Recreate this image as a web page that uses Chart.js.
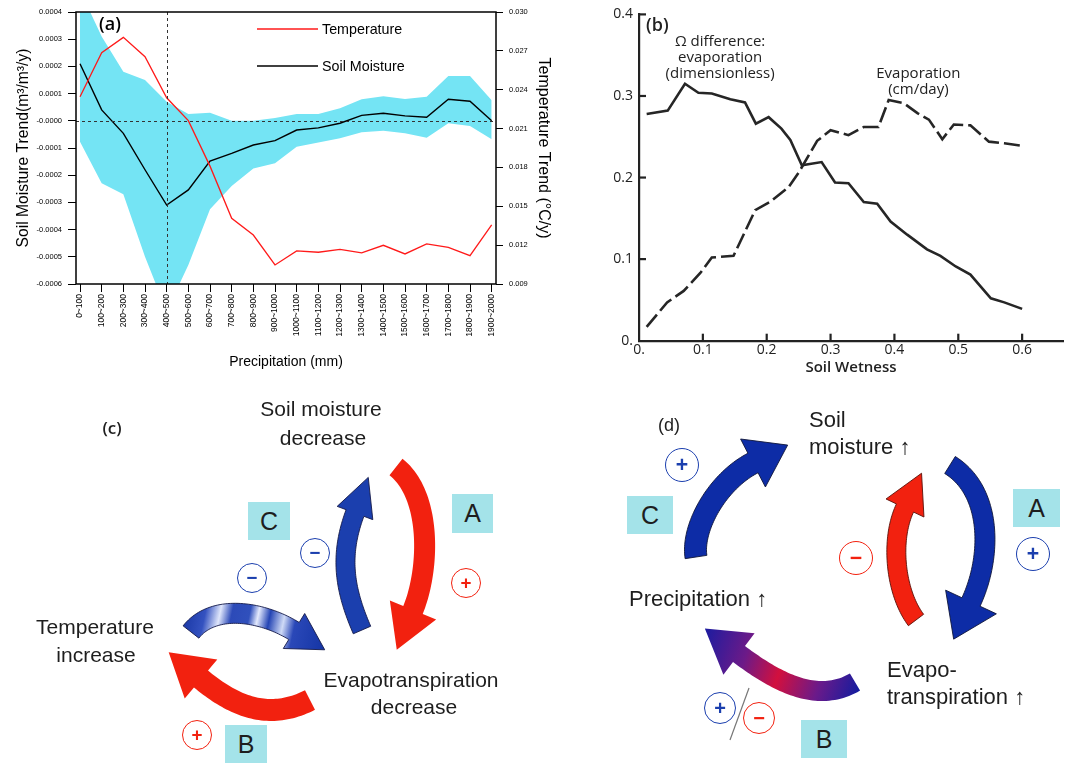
<!DOCTYPE html>
<html>
<head>
<meta charset="utf-8">
<script src="https://cdn.jsdelivr.net/npm/chart.js@4.4.0/dist/chart.umd.min.js"></script>
<style>
  body { margin: 0; background: #fff; }
  #page { position: relative; width: 1070px; height: 763px; overflow: hidden; background: #fff; }
  canvas { position: absolute; }
  .t { position: absolute; white-space: nowrap; font-family: 'Liberation Sans', Arial, sans-serif; color: #1e1e1e; }
  .c { transform: translate(-50%, -50%); text-align: center; }
  .l { transform: translateY(-50%); }
  .box { position: absolute; background: #a4e3e9; display: flex; align-items: center; justify-content: center;
         font-family: 'Liberation Sans', Arial, sans-serif; font-size: 25px; color: #1e1e1e; }
  .circ { position: absolute; border-radius: 50%; box-sizing: border-box; display: flex; align-items: center;
          justify-content: center; font-family: 'Liberation Sans', Arial, sans-serif; font-weight: bold; background: #fff; }
</style>
</head>
<body>
<div id="page">
  <canvas id="diag" width="1070" height="763" style="left:0;top:0"></canvas>
  <canvas id="chartA" width="560" height="380" style="left:0;top:0"></canvas>
  <canvas id="chartB" width="480" height="390" style="left:590px;top:0"></canvas>
</div>
<script>
// ---------------- DATA (a) ----------------
const precipBins = ['0~100','100~200','200~300','300~400','400~500','500~600','600~700','700~800','800~900','900~1000',
  '1000~1100','1100~1200','1200~1300','1300~1400','1400~1500','1500~1600','1600~1700','1700~1800','1800~1900','1900~2000'];
const soilMoisture = [0.00021, 0.00004, -0.000046, -0.00018, -0.00031, -0.000254, -0.000148, -0.00012, -0.000089, -0.000073,
  -0.000034, -0.000026, -0.000009, 0.00002, 0.000028, 0.000018, 0.000013, 0.000079, 0.000072, 0.0];
const smUpper = [0.00048, 0.00031, 0.00018, 0.00015, 0.00007, 0.000025, 0.00003, 0.0, 0.0, 0.00001,
  0.000025, 0.000025, 0.000046, 0.000079, 0.00009, 0.00008, 0.000088, 0.000165, 0.000165, 0.000076];
const smLower = [-0.000077, -0.00023, -0.00027, -0.0005, -0.0007, -0.00053, -0.000325, -0.00024, -0.000175, -0.000156,
  -0.000095, -0.00008, -0.000064, -0.000042, -0.000037, -0.000046, -0.000062, -0.000009, -0.000019, -0.000068];
const tempTrend = [0.02346, 0.02686, 0.02804, 0.02655, 0.02338, 0.02161, 0.0181, 0.01407, 0.01278, 0.01047,
  0.01155, 0.01145, 0.01168, 0.0114, 0.01199, 0.01132, 0.01209, 0.01183, 0.01119, 0.01356];
const smTicks = [-0.0006, -0.0005, -0.0004, -0.0003, -0.0002, -0.0001, 0, 0.0001, 0.0002, 0.0003, 0.0004];
const smTickLabels = ['-0.0006','-0.0005','-0.0004','-0.0003','-0.0002','-0.0001','-0.0000','0.0001','0.0002','0.0003','0.0004'];
const tTicks = [0.009, 0.012, 0.015, 0.018, 0.021, 0.024, 0.027, 0.030];
const tTickLabels = ['0.009','0.012','0.015','0.018','0.021','0.024','0.027','0.030'];
const refBin = 4; // 400~500 dashed marker

// ---------------- DATA (b) ----------------
const omegaX = [0.012, 0.045, 0.072, 0.093, 0.114, 0.143, 0.166, 0.183, 0.203, 0.223, 0.237, 0.255, 0.286, 0.307, 0.328,
  0.352, 0.373, 0.394, 0.420, 0.451, 0.472, 0.496, 0.519, 0.551, 0.572, 0.600];
const omegaY = [0.278, 0.282, 0.315, 0.304, 0.303, 0.296, 0.292, 0.266, 0.274, 0.260, 0.246, 0.215, 0.219, 0.194, 0.193,
  0.170, 0.168, 0.146, 0.130, 0.112, 0.104, 0.091, 0.081, 0.052, 0.047, 0.039];
const evapX = [0.012, 0.044, 0.070, 0.096, 0.114, 0.148, 0.182, 0.205, 0.234, 0.250, 0.279, 0.300, 0.328, 0.352, 0.375,
  0.391, 0.415, 0.436, 0.454, 0.475, 0.493, 0.519, 0.548, 0.572, 0.600];
const evapY = [0.017, 0.047, 0.061, 0.083, 0.102, 0.104, 0.160, 0.170, 0.188, 0.206, 0.245, 0.258, 0.252, 0.262, 0.262,
  0.295, 0.291, 0.279, 0.271, 0.247, 0.265, 0.264, 0.244, 0.242, 0.239];
const wetTicks = [0, 0.1, 0.2, 0.3, 0.4, 0.5, 0.6];
const wetTickLabels = ['0.', '0.1', '0.2', '0.3', '0.4', '0.5', '0.6'];
const bTicks = [0, 0.1, 0.2, 0.3, 0.4];
const bTickLabels = ['0.', '0.1', '0.2', '0.3', '0.4'];

const fontSans = "'Liberation Sans', Arial, sans-serif";
const fontOpen = "'Open Sans', sans-serif";
const cyan = '#74e4f4';

// -------- PANEL (a) extras: frame, dashed refs, legend --------
const frameA = {
  id: 'frameA',
  afterDatasetsDraw(chart) {
    const {ctx, chartArea: a, scales} = chart;
    ctx.save();
    ctx.strokeStyle = '#333';
    ctx.lineWidth = 1;
    ctx.setLineDash([3, 3]);
    const y0 = Math.round(scales.yS.getPixelForValue(0)) + 0.5;
    ctx.beginPath(); ctx.moveTo(a.left, y0); ctx.lineTo(a.right, y0); ctx.stroke();
    const x0 = Math.round(scales.x.getPixelForValue(refBin)) + 0.5;
    ctx.beginPath(); ctx.moveTo(x0, a.top); ctx.lineTo(x0, a.bottom); ctx.stroke();
    ctx.setLineDash([]);
    ctx.strokeStyle = '#000';
    ctx.lineWidth = 1.5;
    ctx.strokeRect(a.left, a.top, a.right - a.left, a.bottom - a.top);
    // legend
    const lx = a.left + 181, items = [['Temperature', '#ff1a1a', 29], ['Soil Moisture', '#000', 66]];
    ctx.font = '14.3px ' + fontSans;
    ctx.textBaseline = 'middle';
    items.forEach(([txt, col, y]) => {
      ctx.strokeStyle = col; ctx.lineWidth = 1.4;
      ctx.beginPath(); ctx.moveTo(lx, y); ctx.lineTo(lx + 61, y); ctx.stroke();
      ctx.fillStyle = '#000';
      ctx.fillText(txt, lx + 65, y + 1);
    });
    ctx.font = '600 18px ' + fontOpen;
    ctx.fillText('(a)', 99, 25);
    ctx.restore();
  }
};

const pts = (arr) => arr.map((v, i) => ({x: i, y: v}));

new Chart(document.getElementById('chartA'), {
  type: 'line',
  data: {
    datasets: [
      {label: 'Temperature', data: pts(tempTrend), yAxisID: 'yT', borderColor: '#ff1a1a', borderWidth: 1.3,
       pointRadius: 0, tension: 0, fill: false, order: 0},
      {label: 'Soil Moisture', data: pts(soilMoisture), yAxisID: 'yS', borderColor: '#000', borderWidth: 1.4,
       pointRadius: 0, tension: 0, fill: false, order: 1},
      {label: 'upper', data: pts(smUpper), yAxisID: 'yS', borderWidth: 0, borderColor: 'rgba(0,0,0,0)',
       backgroundColor: cyan, pointRadius: 0, fill: '+1', order: 5},
      {label: 'lower', data: pts(smLower), yAxisID: 'yS', borderWidth: 0, borderColor: 'rgba(0,0,0,0)',
       pointRadius: 0, fill: false, order: 6}
    ]
  },
  options: {
    responsive: false,
    animation: false,
    layout: {padding: {top: 12, left: 0, right: 0, bottom: 0}},
    plugins: {legend: {display: false}, tooltip: {enabled: false}},
    scales: {
      x: {
        type: 'linear', min: -0.185, max: 19.2,
        afterBuildTicks: s => { s.ticks = precipBins.map((_, i) => ({value: i})); },
        afterFit: s => { s.height = 96; },
        ticks: {callback: v => precipBins[v], minRotation: 90, maxRotation: 90, autoSkip: false,
                font: {family: fontSans, size: 8.5}, color: '#000', padding: 2},
        grid: {drawOnChartArea: false, tickLength: 8, tickColor: '#000', tickWidth: 1},
        border: {display: false},
        title: {display: true, text: 'Precipitation (mm)', color: '#000', font: {family: fontSans, size: 14},
                padding: {top: 0, bottom: 9.6}}
      },
      yS: {
        position: 'left', min: -0.0006, max: 0.0004,
        afterBuildTicks: s => { s.ticks = smTicks.map(v => ({value: v})); },
        afterFit: s => { s.width = 76; },
        ticks: {callback: (v, i) => smTickLabels[i], font: {family: fontSans, size: 7.5}, color: '#000', padding: 6},
        grid: {drawOnChartArea: false, tickLength: 8, tickColor: '#000'},
        border: {display: false},
        title: {display: true, text: 'Soil Moisture Trend(m³/m³/y)', color: '#000',
                font: {family: fontSans, size: 15.7}, padding: {top: 14, bottom: 0}}
      },
      yT: {
        position: 'right', min: 0.009, max: 0.030,
        afterBuildTicks: s => { s.ticks = tTicks.map(v => ({value: v})); },
        afterFit: s => { s.width = 64; },
        ticks: {callback: (v, i) => tTickLabels[i], font: {family: fontSans, size: 7.5}, color: '#000', padding: 6},
        grid: {drawOnChartArea: false, tickLength: 7, tickColor: '#000'},
        border: {display: false},
        title: {display: true, text: 'Temperature Trend (°C/y)', color: '#000',
                font: {family: fontSans, size: 16}, padding: {top: 6.5, bottom: 0}}
      }
    }
  },
  plugins: [frameA]
});

// -------- PANEL (b) extras: inward ticks and annotations --------
const decoB = {
  id: 'decoB',
  afterDraw(chart) {
    const {ctx, chartArea: a, scales: {x, y}} = chart;
    ctx.save();
    ctx.strokeStyle = '#222';
    ctx.lineWidth = 2.2;
    wetTicks.slice(1).forEach(v => {
      const px = x.getPixelForValue(v);
      ctx.beginPath(); ctx.moveTo(px, a.bottom); ctx.lineTo(px, a.bottom - 7); ctx.stroke();
    });
    bTicks.slice(1).forEach(v => {
      const py = y.getPixelForValue(v);
      ctx.beginPath(); ctx.moveTo(a.left, py); ctx.lineTo(a.left + 7, py); ctx.stroke();
    });
    ctx.fillStyle = '#222';
    ctx.textAlign = 'center';
    ctx.textBaseline = 'middle';
    ctx.font = '15px ' + fontOpen;
    [['Ω difference:', 0.127, 0.366], ['evaporation', 0.127, 0.3465], ['(dimensionless)', 0.127, 0.3275],
     ['Evaporation', 0.4375, 0.3275], ['(cm/day)', 0.4375, 0.308]].forEach(([t, vx, vy]) => {
      ctx.fillText(t, x.getPixelForValue(vx), y.getPixelForValue(vy));
    });
    ctx.textAlign = 'left';
    ctx.font = '600 18px ' + fontOpen;
    ctx.fillText('(b)', 56, 26);
    ctx.restore();
  }
};

new Chart(document.getElementById('chartB'), {
  type: 'scatter',
  data: {
    datasets: [
      {label: 'Ω difference: evaporation', data: omegaX.map((v, i) => ({x: v, y: omegaY[i]})), showLine: true,
       borderColor: '#262626', borderWidth: 2.6, pointRadius: 0, tension: 0},
      {label: 'Evaporation', data: evapX.map((v, i) => ({x: v, y: evapY[i]})), showLine: true,
       borderColor: '#262626', borderWidth: 2.6, borderDash: [16, 5], pointRadius: 0, tension: 0}
    ]
  },
  options: {
    responsive: false,
    animation: false,
    layout: {padding: {top: 10, right: 7, left: 0, bottom: 0}},
    plugins: {legend: {display: false}, tooltip: {enabled: false}},
    scales: {
      x: {
        type: 'linear', min: 0, max: 0.664,
        afterBuildTicks: s => { s.ticks = wetTicks.map(v => ({value: v})); },
        afterFit: s => { s.height = 49.3; },
        ticks: {callback: (v, i) => wetTickLabels[i], font: {family: fontOpen, size: 14}, color: '#222', padding: 1},
        grid: {display: true, drawOnChartArea: false, drawTicks: false},
        border: {color: '#222', width: 2.2},
        title: {display: true, text: 'Soil Wetness', color: '#222', font: {family: fontOpen, size: 15, weight: '600'},
                padding: {top: 0, bottom: 13}}
      },
      y: {
        min: 0, max: 0.4,
        afterBuildTicks: s => { s.ticks = bTicks.map(v => ({value: v})); },
        afterFit: s => { s.width = 49; },
        ticks: {callback: (v, i) => bTickLabels[i], font: {family: fontOpen, size: 14}, color: '#222', padding: 6},
        grid: {display: true, drawOnChartArea: false, drawTicks: false},
        border: {color: '#222', width: 2.2}
      }
    }
  },
  plugins: [decoB]
});

// ---------------- PANELS (c) and (d): feedback diagrams ----------------
const red = '#f2210f', blueC = '#1b3fae', blueD = '#0d2ca6';
const dctx = document.getElementById('diag').getContext('2d');

function curvedArrow(ctx, a) {
  const [s, c1, c2, e] = [a.s, a.c1, a.c2, a.e];
  const N = 48, left = [], right = [];
  let nx = 0, ny = 0, dx = 0, dy = 0;
  for (let i = 0; i <= N; i++) {
    const t = i / N, u = 1 - t;
    const px = u*u*u*s[0] + 3*u*u*t*c1[0] + 3*u*t*t*c2[0] + t*t*t*e[0];
    const py = u*u*u*s[1] + 3*u*u*t*c1[1] + 3*u*t*t*c2[1] + t*t*t*e[1];
    dx = 3*u*u*(c1[0]-s[0]) + 6*u*t*(c2[0]-c1[0]) + 3*t*t*(e[0]-c2[0]);
    dy = 3*u*u*(c1[1]-s[1]) + 6*u*t*(c2[1]-c1[1]) + 3*t*t*(e[1]-c2[1]);
    const L = Math.hypot(dx, dy);
    dx /= L; dy /= L; nx = -dy; ny = dx;
    left.push([px + nx*a.w/2, py + ny*a.w/2]);
    right.push([px - nx*a.w/2, py - ny*a.w/2]);
  }
  const tip = [e[0] + dx*a.hl, e[1] + dy*a.hl];
  ctx.beginPath();
  left.forEach((p, i) => i ? ctx.lineTo(p[0], p[1]) : ctx.moveTo(p[0], p[1]));
  ctx.lineTo(e[0] + nx*a.hw/2, e[1] + ny*a.hw/2);
  ctx.lineTo(tip[0], tip[1]);
  ctx.lineTo(e[0] - nx*a.hw/2, e[1] - ny*a.hw/2);
  for (let i = N; i >= 0; i--) ctx.lineTo(right[i][0], right[i][1]);
  ctx.closePath();
  ctx.fillStyle = a.fill;
  ctx.fill();
  if (a.stroke) { ctx.strokeStyle = a.stroke; ctx.lineWidth = 0.9; ctx.stroke(); }
}

const stripes = dctx.createLinearGradient(183, 620, 325, 650);
[[0, '#1a38a6'], [0.14, '#3452c0'], [0.24, '#dfe6fb'], [0.32, '#2c4ab8'], [0.44, '#3050bc'], [0.5, '#e4eafd'],
 [0.58, '#2444b4'], [0.68, '#cfdaf6'], [0.76, '#2a48b8'], [1, '#1434a4']].forEach(([o, c]) => stripes.addColorStop(o, c));
const purple = dctx.createLinearGradient(705, 628, 865, 682);
[[0, '#1c1ca0'], [0.28, '#6c1a88'], [0.5, '#d2103e'], [0.75, '#6a1a8a'], [1, '#0e1ca0']].forEach(([o, c]) => purple.addColorStop(o, c));

const arrows = [
  // (c)
  {s: [396, 467], c1: [431.5, 495], c2: [430, 568.3], e: [413, 610], w: 21, hl: 43, hw: 50, fill: red},
  {s: [362, 630], c1: [344, 588.6], c2: [339.25, 555.3], e: [355, 513], w: 19, hl: 38, hw: 38, fill: blueC, stroke: '#141a4a'},
  {s: [191, 632], c1: [212.4, 604.4], c2: [260, 610.2], e: [294, 631], w: 20, hl: 36, hw: 41, fill: stripes, stroke: '#141a4a'},
  {s: [310, 700], c1: [270, 720.3], c2: [235.7, 707.8], e: [201, 679], w: 22, hl: 42, hw: 51, fill: red},
  // (d)
  {s: [696, 557], c1: [691.5, 527.3], c2: [717.4, 481.4], e: [753, 463], w: 22, hl: 39, hw: 54, fill: blueD, stroke: '#10163a'},
  {s: [950, 465], c1: [992.5, 491.5], c2: [992, 557], e: [971, 602], w: 20, hl: 41, hw: 56, fill: blueD, stroke: '#10163a'},
  {s: [916, 620], c1: [895, 592], c2: [890, 539.5], e: [905, 508], w: 19, hl: 38.5, hw: 42, fill: red, stroke: '#5a1008'},
  {s: [855, 682], c1: [816.75, 704.5], c2: [775, 681], e: [739, 654], w: 20, hl: 42.7, hw: 52, fill: purple}
];
arrows.forEach(a => curvedArrow(dctx, a));

// slash between +/- in (d)
dctx.strokeStyle = '#777';
dctx.lineWidth = 1.2;
dctx.beginPath(); dctx.moveTo(749, 688); dctx.lineTo(730, 740); dctx.stroke();

const page = document.getElementById('page');
function addText(txt, x, y, size, cls, extra) {
  const d = document.createElement('div');
  d.className = 't ' + cls;
  d.textContent = txt;
  d.style.left = x + 'px'; d.style.top = y + 'px'; d.style.fontSize = size + 'px';
  if (extra) Object.assign(d.style, extra);
  page.appendChild(d);
}
function addBox(txt, x, y, w, h) {
  const d = document.createElement('div');
  d.className = 'box'; d.textContent = txt;
  Object.assign(d.style, {left: x + 'px', top: y + 'px', width: w + 'px', height: h + 'px'});
  page.appendChild(d);
}
function addCirc(sym, x, y, r, col) {
  const d = document.createElement('div');
  d.className = 'circ'; d.textContent = sym;
  Object.assign(d.style, {left: (x - r) + 'px', top: (y - r) + 'px', width: 2*r + 'px', height: 2*r + 'px',
    border: '1.7px solid ' + col, color: col, fontSize: (r * 1.25) + 'px'});
  page.appendChild(d);
}

// (c) texts
addText('(c)', 112, 427, 17, 'c', {fontFamily: fontOpen, fontWeight: '600'});
addText('Soil moisture', 321, 409, 21, 'c');
addText('decrease', 323, 438, 21, 'c');
addText('Temperature', 95, 627, 21, 'c');
addText('increase', 96, 655, 21, 'c');
addText('Evapotranspiration', 411, 680, 21, 'c');
addText('decrease', 414, 707, 21, 'c');
addBox('C', 248, 502, 42, 38);
addBox('A', 452, 494, 41, 39);
addBox('B', 225, 725, 42, 38);
addCirc('−', 315, 553, 15, '#1b3fae');
addCirc('−', 252, 578, 15, '#1b3fae');
addCirc('+', 466, 583, 15, red);
addCirc('+', 197, 735, 15, red);

// (d) texts
addText('(d)', 669, 425, 18, 'c');
addText('Soil', 809, 420, 22, 'l');
addText('moisture ↑', 809, 447, 22, 'l');
addText('Precipitation ↑', 629, 599, 22, 'l');
addText('Evapo-', 887, 670, 22, 'l');
addText('transpiration ↑', 887, 697, 22, 'l');
addBox('C', 627, 496, 46, 38);
addBox('A', 1013, 489, 47, 38);
addBox('B', 801, 720, 46, 38);
addCirc('+', 682, 465, 17, '#1b3fae');
addCirc('+', 1033, 554, 17, '#1b3fae');
addCirc('−', 856, 558, 17, red);
addCirc('+', 720, 708, 16, '#1b3fae');
addCirc('−', 759, 718, 16, red);
</script>
</body>
</html>
